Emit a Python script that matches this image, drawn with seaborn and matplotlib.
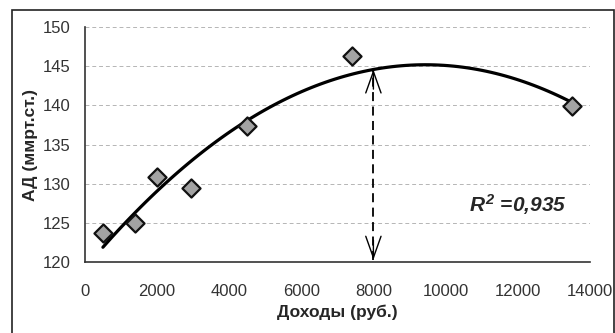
import matplotlib
matplotlib.use("Agg")
import matplotlib.pyplot as plt
import seaborn as sns
import pandas as pd
import numpy as np
from matplotlib.patches import Rectangle

income = [500, 1400, 2000, 2950, 4500, 7400, 13500]
pressure = [123.7, 125.0, 130.9, 129.5, 137.3, 146.3, 139.9]
r2_text = "$R^2$ =0,935"
arrow_x = 8000
xlabel = "Доходы (руб.)"
ylabel = "АД (ммрт.ст.)"
xticks = [0, 2000, 4000, 6000, 8000, 10000, 12000, 14000]
yticks = [120, 125, 130, 135, 140, 145, 150]

df = pd.DataFrame({"income": income, "pressure": pressure})

sns.set_style("white")
plt.rcParams['font.family'] = ['Liberation Sans', 'DejaVu Sans']
plt.rcParams['mathtext.fontset'] = 'custom'
plt.rcParams['mathtext.it'] = 'Liberation Sans:bold:italic'
plt.rcParams['mathtext.rm'] = 'Liberation Sans:bold:italic'

fig = plt.figure(figsize=(6.15, 3.33), dpi=100)
ax = fig.add_axes([0.138, 0.213, 0.821, 0.706])

fig.patches.append(Rectangle((12/615, -0.01), (614-12)/615, 1 - 10/333 + 0.01,
                             transform=fig.transFigure, fill=False,
                             edgecolor="#222222", linewidth=1.2))

ax.set_xlim(0, 14000)
ax.set_ylim(120, 150)
for y in yticks[1:]:
    ax.axhline(y, color="#b5b5b5", linestyle=(0, (4, 3)), linewidth=0.7, zorder=0)

sns.regplot(data=df, x="income", y="pressure", order=2, ci=None, ax=ax,
            marker="D",
            scatter_kws=dict(s=85, facecolor="#a3a3a3", edgecolor="#111111",
                             linewidths=1.6, zorder=3, alpha=1),
            line_kws=dict(color="black", linewidth=2.3, zorder=2))

coef = np.polyfit(income, pressure, 2)
ytop = np.polyval(coef, arrow_x)
ybot = 120.3
ax.vlines(arrow_x, ybot, ytop, colors="black", linestyles=(0, (5, 3)),
          linewidth=1.3, zorder=2)
for tip, tail in ((ytop, ytop - 2.5), (ybot, ybot + 2.5)):
    ax.annotate("", xy=(arrow_x, tip), xytext=(arrow_x, tail),
                arrowprops=dict(arrowstyle="->,head_length=0.7,head_width=0.25",
                                lw=1.0, color="black", mutation_scale=22,
                                shrinkA=0, shrinkB=0))

ax.text(10650, 127.3, r2_text, fontsize=15, fontweight="bold",
        fontstyle="italic", ha="left", va="center")

ax.set_xticks(xticks)
ax.set_yticks(yticks)
ax.tick_params(axis="x", direction="in", length=4, width=1, color="#333333",
               labelsize=12, labelcolor="#333333", pad=16)
ax.tick_params(axis="y", length=0, labelsize=12, labelcolor="#333333", pad=10)
for s in ["top", "right"]:
    ax.spines[s].set_visible(False)
for s in ["left", "bottom"]:
    ax.spines[s].set_color("#333333")
    ax.spines[s].set_linewidth(1.2)

ax.set_xlabel(xlabel, fontsize=12.5, fontweight="bold", labelpad=4)
ax.set_ylabel(ylabel, fontsize=12.5, fontweight="bold", labelpad=4)

fig.savefig("out.png", dpi=100)
